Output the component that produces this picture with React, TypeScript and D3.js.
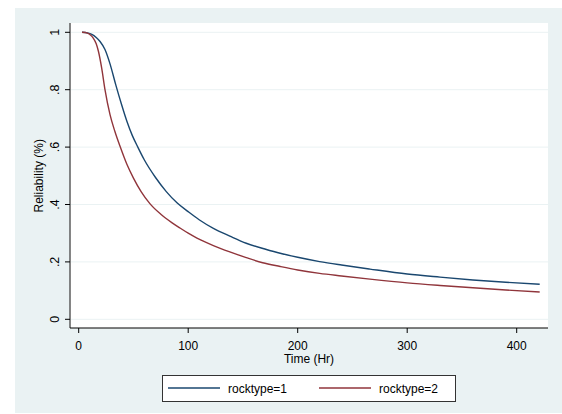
import { useMemo } from "react";
import * as d3 from "d3";

const W = 562;
const H = 414;
// plot region (white) inside the light outer frame
const FRAME = { left: 15, top: 8, right: 562, bottom: 413 };
const PLOT = { left: 70, top: 23, right: 548, bottom: 328 };

// survival curves
const time1 = [3, 8, 12, 16, 19.5, 24, 28.6, 34, 39, 44, 49, 54, 60, 70, 80, 90, 100, 110, 123, 138, 153, 170, 184, 200, 220, 240, 266, 300, 330, 360, 390, 421];
const rel1 = [1.0, 0.998, 0.993, 0.982, 0.968, 0.94, 0.89, 0.815, 0.75, 0.69, 0.64, 0.6, 0.555, 0.495, 0.445, 0.405, 0.375, 0.347, 0.317, 0.29, 0.265, 0.245, 0.23, 0.216, 0.201, 0.189, 0.175, 0.158, 0.147, 0.137, 0.129, 0.122];

const time2 = [3, 8, 11, 13.3, 16, 18, 21, 24, 28.6, 33, 38, 44, 50, 57, 65, 75, 85, 92.5, 100, 108, 123, 138, 153, 168, 184, 200, 220, 240, 266, 300, 330, 360, 390, 421];
const rel2 = [1.0, 0.997, 0.99, 0.98, 0.96, 0.934, 0.875, 0.8, 0.713, 0.655, 0.6, 0.54, 0.492, 0.445, 0.403, 0.366, 0.337, 0.318, 0.3, 0.283, 0.257, 0.235, 0.215, 0.197, 0.184, 0.172, 0.16, 0.151, 0.14, 0.127, 0.118, 0.11, 0.102, 0.095];

const xTicks = [0, 100, 200, 300, 400];
const yTicks = [0, 0.2, 0.4, 0.6, 0.8, 1];
const yTickLabels = ["0", ".2", ".4", ".6", ".8", "1"];

const series = [
  { name: "rocktype=1", color: "#1a476f", time: time1, rel: rel1 },
  { name: "rocktype=2", color: "#90353b", time: time2, rel: rel2 },
];

const FONT = "'Liberation Sans', Arial, sans-serif";

export default function App() {
  const xScale = useMemo(
    () => d3.scaleLinear().domain([0, 400]).range([78.7, 516.7]),
    []
  );
  const yScale = useMemo(
    () => d3.scaleLinear().domain([0, 1]).range([319.3, 32.3]),
    []
  );

  const paths = useMemo(() => {
    const line = d3
      .line<[number, number]>()
      .x((d) => xScale(d[0]))
      .y((d) => yScale(d[1]))
      .curve(d3.curveMonotoneX);
    return series.map((s) => line(s.time.map((t, i) => [t, s.rel[i]] as [number, number])));
  }, [xScale, yScale]);

  const plotMidX = (PLOT.left + PLOT.right) / 2;
  const yMid = (yScale(0) + yScale(1)) / 2;

  return (
    <svg
      width={W}
      height={H}
      style={{ position: "absolute", left: 0, top: 0, background: "#fff" }}
      fontFamily={FONT}
    >
      <rect
        x={FRAME.left}
        y={FRAME.top}
        width={FRAME.right - FRAME.left}
        height={FRAME.bottom - FRAME.top}
        fill="#eaf2f3"
      />
      <rect
        x={PLOT.left}
        y={PLOT.top}
        width={PLOT.right - PLOT.left}
        height={PLOT.bottom - PLOT.top}
        fill="#fff"
      />

      {/* grid */}
      {yTicks.map((t) => (
        <line
          key={t}
          x1={PLOT.left}
          x2={PLOT.right}
          y1={yScale(t)}
          y2={yScale(t)}
          stroke="#eaf2f3"
          strokeWidth={1}
        />
      ))}

      {/* curves */}
      {series.map((s, i) => (
        <path key={s.name} d={paths[i] ?? ""} fill="none" stroke={s.color} strokeWidth={1.4} />
      ))}

      {/* y axis */}
      <line x1={PLOT.left} x2={PLOT.left} y1={PLOT.top} y2={PLOT.bottom} stroke="#666" strokeWidth={1.6} />
      {yTicks.map((t, i) => (
        <g key={t} transform={`translate(${PLOT.left}, ${yScale(t)})`}>
          <line x1={-5} x2={0} stroke="#000" strokeWidth={1} />
          <text
            transform="translate(-11, 0) rotate(-90)"
            textAnchor="middle"
            fontSize={12.5}
            fill="#000"
          >
            {yTickLabels[i]}
          </text>
        </g>
      ))}
      <text
        transform={`translate(43, ${yMid}) rotate(-90)`}
        textAnchor="middle"
        fontSize={12}
        fill="#000"
      >
        Reliability (%)
      </text>

      {/* x axis */}
      <line x1={PLOT.left} x2={PLOT.right} y1={PLOT.bottom} y2={PLOT.bottom} stroke="#000" strokeWidth={1} />
      {xTicks.map((t) => (
        <g key={t} transform={`translate(${xScale(t)}, ${PLOT.bottom})`}>
          <line y1={0} y2={5} stroke="#000" strokeWidth={1} />
          <text y={22} textAnchor="middle" fontSize={12} fill="#000">
            {t}
          </text>
        </g>
      ))}
      <text x={plotMidX} y={363} textAnchor="middle" fontSize={12} fill="#000">
        Time (Hr)
      </text>

      {/* legend */}
      <rect x={162.5} y={375.5} width={293} height={26} fill="#fff" stroke="#333" strokeWidth={1} />
      {series.map((s, i) => {
        const x0 = 168 + i * 151;
        return (
          <g key={s.name}>
            <line x1={x0} x2={x0 + 52} y1={388} y2={388} stroke={s.color} strokeWidth={1.4} />
            <text x={x0 + 60} y={393} fontSize={12} fill="#000">
              {s.name}
            </text>
          </g>
        );
      })}
    </svg>
  );
}
